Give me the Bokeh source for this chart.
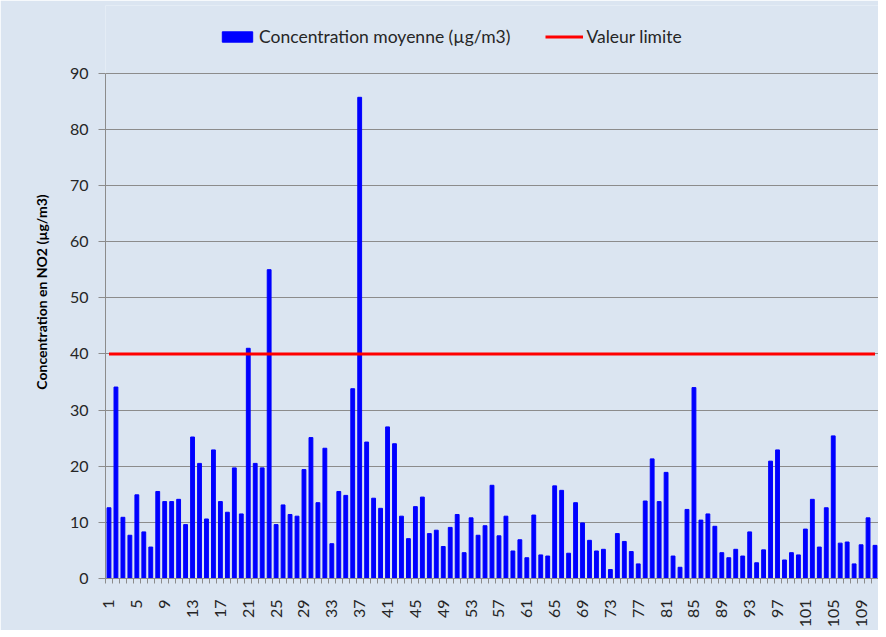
import math
from bokeh.plotting import figure
from bokeh.models import Legend, LegendItem, FixedTicker, Range1d
from bokeh.embed import file_html
from bokeh.resources import INLINE

# ---- data ----
stations = list(range(1, 112))
concentration = [
    12.6, 34.1, 10.9, 7.7, 14.9, 8.3, 5.6, 15.5, 13.7, 13.7,
    14.1, 9.6, 25.2, 20.5, 10.6, 22.9, 13.7, 11.8, 19.7, 11.5,
    41.0, 20.5, 19.7, 55.0, 9.6, 13.1, 11.4, 11.1, 19.4, 25.1,
    13.5, 23.2, 6.2, 15.5, 14.8, 33.8, 85.7, 24.3, 14.3, 12.5,
    27.0, 24.0, 11.1, 7.1, 12.8, 14.5, 8.0, 8.6, 5.7, 9.1,
    11.4, 4.6, 10.8, 7.7, 9.4, 16.6, 7.6, 11.1, 4.9, 6.9,
    3.7, 11.3, 4.2, 4.0, 16.5, 15.7, 4.5, 13.5, 9.9, 6.8,
    4.9, 5.2, 1.6, 8.0, 6.6, 4.8, 2.6, 13.8, 21.3, 13.7,
    18.9, 4.0, 2.0, 12.3, 34.0, 10.4, 11.5, 9.3, 4.6, 3.7,
    5.2, 4.0, 8.3, 2.8, 5.1, 20.9, 22.9, 3.3, 4.6, 4.2,
    8.8, 14.1, 5.6, 12.6, 25.4, 6.3, 6.5, 2.6, 6.0, 10.8,
    5.9,
]
limit_value = [40] * len(stations)
x_tick_labels = [1, 5, 9, 13, 17, 21, 25, 29, 33, 37, 41, 45, 49, 53, 57, 61,
                 65, 69, 73, 77, 81, 85, 89, 93, 97, 101, 105, 109]
y_ticks = [0, 10, 20, 30, 40, 50, 60, 70, 80, 90]

BG = "#DBE5F1"
GRID = "#8C8C8C"
FONT = "Lato"
TXT = "#262626"

# frame spans 5px..581px; 0..90 occupies 73..581 -> extra headroom for the legend
p = figure(width=878, height=630,
           x_range=Range1d(0.5, len(stations) + 0.5), y_range=Range1d(0, 102.05),
           output_backend="svg", toolbar_location=None,
           min_border_left=105, min_border_right=0, min_border_top=5, min_border_bottom=49)

p.background_fill_color = BG
p.border_fill_color = BG
p.outline_line_color = None

bars = p.vbar(x=stations, top=concentration, width=0.55, color="#0000FF")
line = p.line(x=stations, y=limit_value, line_color="#FF0000", line_width=3)

# axes
p.xgrid.grid_line_color = None
p.ygrid.grid_line_color = GRID
p.ygrid.grid_line_width = 1
p.yaxis.ticker = FixedTicker(ticks=y_ticks)
p.yaxis.bounds = (0, 90)
p.xaxis.ticker = FixedTicker(ticks=x_tick_labels,
                             minor_ticks=[i + 0.5 for i in range(0, len(stations) + 1)])

for ax in (p.xaxis[0], p.yaxis[0]):
    ax.axis_line_color = GRID
    ax.major_tick_line_color = GRID
    ax.minor_tick_line_color = GRID
    ax.major_label_text_font = FONT
    ax.major_label_text_font_size = "16px"
    ax.major_label_text_color = TXT

p.yaxis.major_tick_in = 0
p.yaxis.major_tick_out = 7
p.yaxis.minor_tick_out = 0
p.yaxis.minor_tick_in = 0
p.yaxis.major_label_standoff = 10
p.yaxis.axis_label = "Concentration en NO2 (µg/m3)"
p.yaxis.axis_label_text_font = FONT
p.yaxis.axis_label_text_font_size = "14px"
p.yaxis.axis_label_text_font_style = "bold"
p.yaxis.axis_label_text_color = "#000000"
p.yaxis.axis_label_standoff = 17

p.xaxis.major_tick_in = 0
p.xaxis.major_tick_out = 0
p.xaxis.minor_tick_in = 0
p.xaxis.minor_tick_out = 5
p.xaxis.major_label_orientation = math.pi / 2
p.xaxis.major_label_standoff = 16

legend = Legend(items=[LegendItem(label="Concentration moyenne (µg/m3)", renderers=[bars]),
                       LegendItem(label="Valeur limite", renderers=[line])],
                orientation="horizontal", location=(113, 531),
                glyph_width=38, glyph_height=13, label_standoff=3, spacing=35,
                label_text_font=FONT, label_text_font_size="17.5px", label_text_color=TXT,
                background_fill_alpha=0, border_line_color=None,
                margin=0, padding=4)
p.add_layout(legend, "center")

open("out.html", "w").write(file_html(p, INLINE))
